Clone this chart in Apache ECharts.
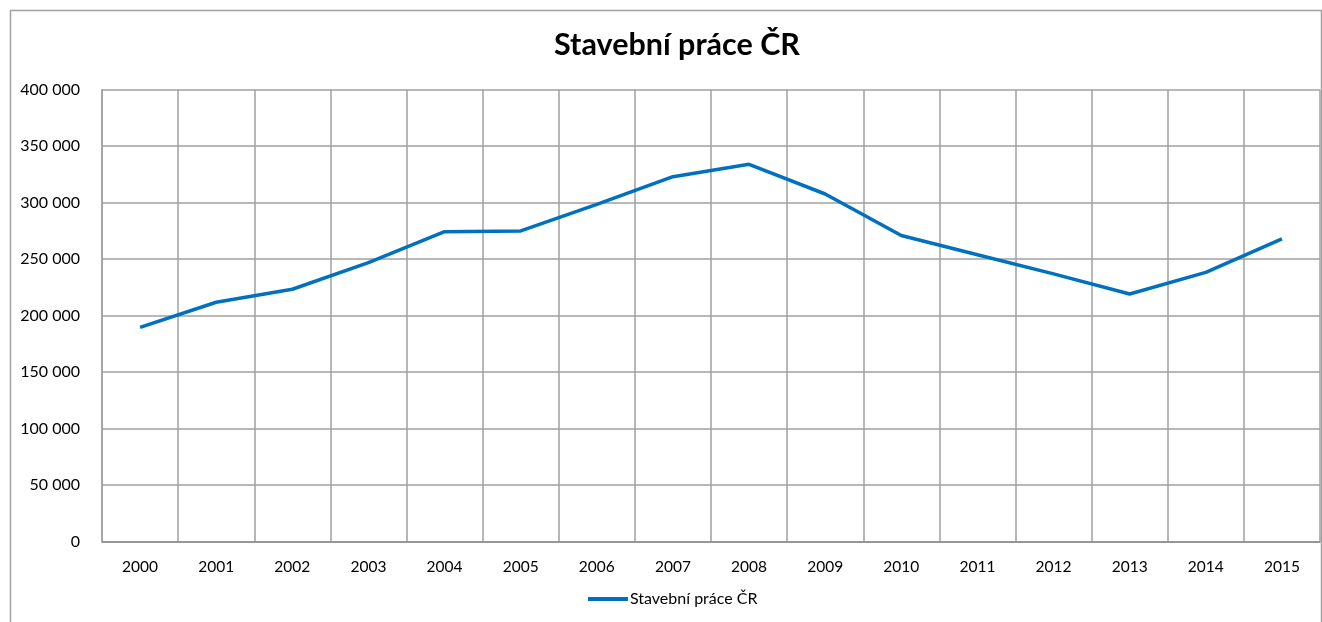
<!DOCTYPE html>
<html><head><meta charset="utf-8">
<script src="https://cdn.jsdelivr.net/npm/echarts@6/dist/echarts.min.js"></script>
<style>html,body{margin:0;padding:0;background:#fff}#c{width:1322px;height:622px}</style>
</head><body><div id="c"></div>
<script>
const years = ['2000','2001','2002','2003','2004','2005','2006','2007','2008','2009','2010','2011','2012','2013','2014','2015'];
const values = [189700,211900,223400,246900,274300,275000,298500,323000,334000,307700,271000,254000,237000,219200,238400,267900];
const seriesName = 'Stavební práce ČR';
const fmt = v => String(v).replace(/\B(?=(\d{3})+(?!\d))/g, ' ');
const chart = echarts.init(document.getElementById('c'), null, {renderer:'canvas'});
const font = 'Lato, "Open Sans", sans-serif';
chart.setOption({
  animation:false,
  backgroundColor:'#fff',
  title:{text:'Stavební práce ČR', left:554, top:30, padding:0, textStyle:{fontFamily:font, fontSize:30.5, fontWeight:'bold', color:'#000'}},
  legend:{top:591, left:588, padding:0, itemWidth:40, itemHeight:4, itemGap:0, icon:'rect',
    textStyle:{fontFamily:font, fontSize:16, color:'#000', padding:[0,0,0,-3]}, data:[seriesName]},
  graphic:[{type:'rect', shape:{x:10.5,y:10.5,width:1311,height:700}, style:{fill:'none', stroke:'#a0a0a0', lineWidth:1.5}, silent:true}],
  grid:{left:102, right:2, top:89.7, bottom:80.3, containLabel:false},
  xAxis:{type:'category', data:years, boundaryGap:true,
    axisLine:{lineStyle:{color:'#8c8c8c', width:1.5}}, axisTick:{show:false},
    axisLabel:{fontFamily:font, fontSize:15.5, color:'#000', margin:17.5},
    splitLine:{show:true, lineStyle:{color:'#a0a0a0', width:1.5}}},
  yAxis:{type:'value', min:0, max:400000, interval:50000,
    axisLine:{show:true, lineStyle:{color:'#a0a0a0', width:1.5}}, axisTick:{show:false},
    axisLabel:{fontFamily:font, fontSize:16, color:'#000', margin:22, formatter:fmt},
    splitLine:{lineStyle:{color:'#a0a0a0', width:1.5}}},
  series:[{name:seriesName, type:'line', data:values, symbol:'none',
    lineStyle:{color:'#0070C0', width:3.5}, itemStyle:{color:'#0070C0'}}]
});
</script></body></html>
